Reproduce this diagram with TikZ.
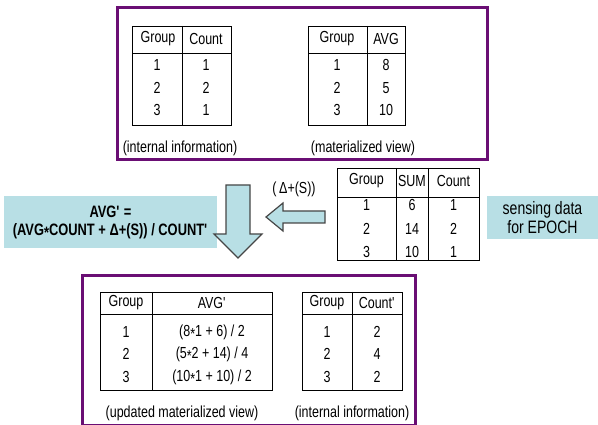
\documentclass[tikz,border=0pt]{standalone}
\usepackage{fontspec}
\setmainfont{Liberation Sans}[FakeStretch=0.78]
\usepackage{tikz}
\usetikzlibrary{positioning}
\definecolor{viewpurple}{RGB}{106,14,116}
\definecolor{notecyan}{RGB}{184,223,229}
\definecolor{arrowgray}{RGB}{70,70,70}
\newcommand*\prm{\textquotesingle}
\newcommand*\mul{\raisebox{-.35ex}{*}}

\begin{document}
\begin{tikzpicture}[
        x=1pt, y=-1pt,
        frame/.style={draw=viewpurple, line width=3pt},
        grid/.style={draw, line width=0.8pt},
        cell/.style={inner sep=0pt, font=\fontsize{16}{18}\selectfont},
        note/.style={fill=notecyan, align=center, inner sep=0pt},
        blockarrow/.style={draw=arrowgray, fill=notecyan, line width=1.2pt, line join=miter},
    ]
    \useasboundingbox (0,0) rectangle (598,425);

    % old state
    \draw[frame] (117,8) rectangle (487,160);
    \draw[grid] (132,26) rectangle (231,125) (182,26) -- (182,125) (132,53) -- (231,53);
    \node[cell] (cnt-hg) at (158,39) {Group};
    \node[cell] (cnt-hc) at (206,39) {Count};
    \foreach \y/\g/\c in {65/1/1, 88/2/2, 110/3/1} {
        \node[cell] (cnt-g\g) at (157,\y) {\g};
        \node[cell] (cnt-c\g) at (206,\y) {\c};
    }
    \node[cell] (cnt-lbl) at (180,148) {(internal information)};

    \draw[grid] (308,26) rectangle (405,125) (367,26) -- (367,125) (308,53) -- (405,53);
    \node[cell] (avg-hg) at (337,39) {Group};
    \node[cell] (avg-ha) at (386,39) {AVG};
    \foreach \y/\g/\a in {65/1/8, 88/2/5, 110/3/10} {
        \node[cell] (avg-g\g) at (337,\y) {\g};
        \node[cell] (avg-a\g) at (386,\y) {\a};
    }
    \node[cell] (avg-lbl) at (363,148) {(materialized view)};

    % sensing data
    \draw[grid] (337,168) rectangle (479,260) (396,168) -- (396,260) (428,168) -- (428,260) (337,197) -- (479,197);
    \node[cell] (sen-hg) at (366.5,181) {Group};
    \node[cell] (sen-hs) at (412,181) {SUM};
    \node[cell] (sen-hc) at (453.5,181) {Count};
    \foreach \y/\g/\s/\c in {205/1/6/1, 229/2/14/2, 252/3/10/1} {
        \node[cell] (sen-g\g) at (366.5,\y) {\g};
        \node[cell] (sen-s\g) at (412,\y) {\s};
        \node[cell] (sen-c\g) at (453.5,\y) {\c};
    }
    \node[note, minimum width=111pt, minimum height=43pt, font=\fontsize{18}{19}\selectfont] (epoch) at (542.5,217.5) {sensing data\\for EPOCH};

    \node[note, minimum width=213pt, minimum height=52pt, font=\bfseries\fontsize{16.5}{18}\selectfont] (formula) at (110.5,222) {AVG\prm{} =\\(AVG\mul COUNT + Δ+(S)) / COUNT\prm};

    \draw[blockarrow] (226,185) -- (250,185) -- (250,234) -- (262,234) -- (238,258) -- (214,234) -- (226,234) -- cycle;
    \draw[blockarrow] (325,211) -- (283,211) -- (283,203) -- (266,217) -- (283,231) -- (283,223) -- (325,223) -- cycle;
    \node[cell] (delta) at (294,189) {(\,Δ+(S))};

    % new state
    \draw[frame] (82,276) rectangle (415,425.5);
    \draw[grid] (100,292) rectangle (272,390) (152,292) -- (152,390) (100,314) -- (272,314);
    \node[cell] (upd-hg) at (126,303) {Group};
    \node[cell] (upd-ha) at (212,303) {AVG\prm};
    \foreach \y/\g/\a in {332/1/{(8\mul 1 + 6) / 2}, 354/2/{(5\mul 2 + 14) / 4}, 377/3/{(10\mul 1 + 10) / 2}} {
        \node[cell] (upd-g\g) at (126,\y) {\g};
        \node[cell] (upd-a\g) at (212,\y) {\a};
    }
    \node[cell] (upd-lbl) at (182,413) {(updated materialized view)};

    \draw[grid] (302,292) rectangle (402,390) (352,292) -- (352,390) (302,314) -- (402,314);
    \node[cell] (new-hg) at (327,303) {Group};
    \node[cell] (new-hc) at (377,303) {Count\prm};
    \foreach \y/\g/\c in {332/1/2, 354/2/4, 377/3/2} {
        \node[cell] (new-g\g) at (327,\y) {\g};
        \node[cell] (new-c\g) at (377,\y) {\c};
    }
    \node[cell] (new-lbl) at (352,413) {(internal information)};
\end{tikzpicture}
\end{document}
